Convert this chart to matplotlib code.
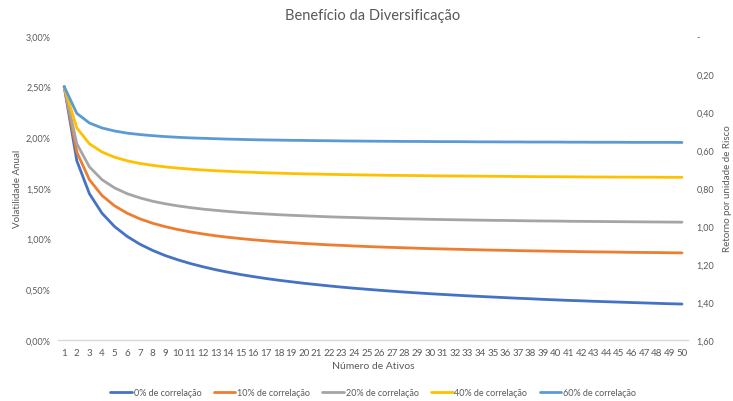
import matplotlib.pyplot as plt
from matplotlib.ticker import FuncFormatter

plt.rcParams['font.family'] = ['Lato', 'DejaVu Sans']

ativos = list(range(1, 51))

# volatilidade anual da carteira (%) por numero de ativos
corr_0 = [2.500, 1.768, 1.443, 1.250, 1.118, 1.021, 0.945, 0.884, 0.833, 0.791,
          0.754, 0.722, 0.693, 0.668, 0.645, 0.625, 0.606, 0.589, 0.574, 0.559,
          0.546, 0.533, 0.521, 0.510, 0.500, 0.490, 0.481, 0.472, 0.464, 0.456,
          0.449, 0.442, 0.435, 0.429, 0.423, 0.417, 0.411, 0.406, 0.400, 0.395,
          0.390, 0.386, 0.381, 0.377, 0.373, 0.369, 0.365, 0.361, 0.357, 0.354]
corr_10 = [2.500, 1.854, 1.581, 1.425, 1.323, 1.250, 1.195, 1.152, 1.118, 1.090,
           1.066, 1.046, 1.028, 1.013, 1.000, 0.988, 0.978, 0.968, 0.960, 0.952,
           0.945, 0.938, 0.933, 0.927, 0.922, 0.917, 0.913, 0.909, 0.905, 0.901,
           0.898, 0.895, 0.892, 0.889, 0.886, 0.884, 0.881, 0.879, 0.877, 0.875,
           0.873, 0.871, 0.869, 0.868, 0.866, 0.864, 0.863, 0.862, 0.860, 0.859]
corr_20 = [2.500, 1.936, 1.708, 1.581, 1.500, 1.443, 1.402, 1.369, 1.344, 1.323,
           1.306, 1.291, 1.279, 1.268, 1.258, 1.250, 1.243, 1.236, 1.230, 1.225,
           1.220, 1.215, 1.211, 1.208, 1.204, 1.201, 1.198, 1.195, 1.193, 1.190,
           1.188, 1.186, 1.184, 1.182, 1.180, 1.179, 1.177, 1.175, 1.174, 1.173,
           1.171, 1.170, 1.169, 1.168, 1.167, 1.166, 1.165, 1.164, 1.163, 1.162]
corr_40 = [2.500, 2.092, 1.936, 1.854, 1.803, 1.768, 1.742, 1.723, 1.708, 1.696,
           1.686, 1.677, 1.670, 1.664, 1.658, 1.654, 1.649, 1.646, 1.642, 1.639,
           1.637, 1.634, 1.632, 1.630, 1.628, 1.626, 1.624, 1.623, 1.622, 1.620,
           1.619, 1.618, 1.617, 1.616, 1.615, 1.614, 1.613, 1.612, 1.611, 1.611,
           1.610, 1.609, 1.608, 1.608, 1.607, 1.607, 1.606, 1.606, 1.605, 1.605]
corr_60 = [2.500, 2.236, 2.141, 2.092, 2.062, 2.041, 2.027, 2.016, 2.007, 2.000,
           1.994, 1.990, 1.986, 1.982, 1.979, 1.976, 1.974, 1.972, 1.970, 1.969,
           1.967, 1.966, 1.964, 1.963, 1.962, 1.961, 1.960, 1.959, 1.959, 1.958,
           1.957, 1.957, 1.956, 1.955, 1.955, 1.954, 1.954, 1.953, 1.953, 1.953,
           1.952, 1.952, 1.951, 1.951, 1.951, 1.950, 1.950, 1.950, 1.950, 1.949]

series = [corr_0, corr_10, corr_20, corr_40, corr_60]
rotulos = ['0% de correlação', '10% de correlação', '20% de correlação',
           '40% de correlação', '60% de correlação']
cores = ['#4472C4', '#ED7D31', '#A5A5A5', '#FFC000', '#5B9BD5']

cinza = '#595959'

fig = plt.figure(figsize=(7.33, 4.02), dpi=100)
ax = fig.add_axes([0.079, 0.152, 0.860, 0.756])

for ys, lab, c in zip(series, rotulos, cores):
    ax.plot(ativos, ys, color=c, lw=2.0, label=lab, solid_capstyle='round')

ax.set_xlim(0.5, 50.5)
ax.set_ylim(0, 3.0)
ax.set_yticks([0, 0.5, 1.0, 1.5, 2.0, 2.5, 3.0])
ax.yaxis.set_major_formatter(FuncFormatter(lambda v, p: f'{v:.2f}%'.replace('.', ',')))
ax.set_xticks(ativos)

for s in ['top', 'right', 'left']:
    ax.spines[s].set_visible(False)
ax.spines['bottom'].set_color('#D9D9D9')
ax.spines['bottom'].set_linewidth(1.0)
ax.tick_params(axis='x', length=0, labelsize=7, colors=cinza, pad=6)
ax.tick_params(axis='y', length=0, labelsize=6.5, colors=cinza, pad=5)

ax.set_xlabel('Número de Ativos', fontsize=7.5, color=cinza, labelpad=3)
ax.set_ylabel('Volatilidade Anual', fontsize=7, color=cinza, labelpad=3)
ax.set_title('Benefício da Diversificação', fontsize=10.5, color=cinza, pad=12)

# eixo secundario invertido
ax2 = ax.twinx()
ax2.set_ylim(1.6, 0)
ax2.set_yticks([0, 0.2, 0.4, 0.6, 0.8, 1.0, 1.2, 1.4, 1.6])
ax2.yaxis.set_major_formatter(
    FuncFormatter(lambda v, p: '-' if abs(v) < 1e-9 else f'{v:.2f}'.replace('.', ',')))
for s in ['top', 'right', 'left', 'bottom']:
    ax2.spines[s].set_visible(False)
ax2.tick_params(axis='y', length=0, labelsize=6.5, colors=cinza, pad=6)
ax2.set_ylabel('Retorno por unidade de Risco', fontsize=7, color=cinza,
               rotation=90, labelpad=6)

ax.legend(loc='center', bbox_to_anchor=(0.5, -0.172), ncol=5, frameon=False,
          fontsize=6.5, labelcolor=cinza, handlelength=2.4, handletextpad=0.2,
          columnspacing=1.35)

fig.savefig('out.png', dpi=100)
